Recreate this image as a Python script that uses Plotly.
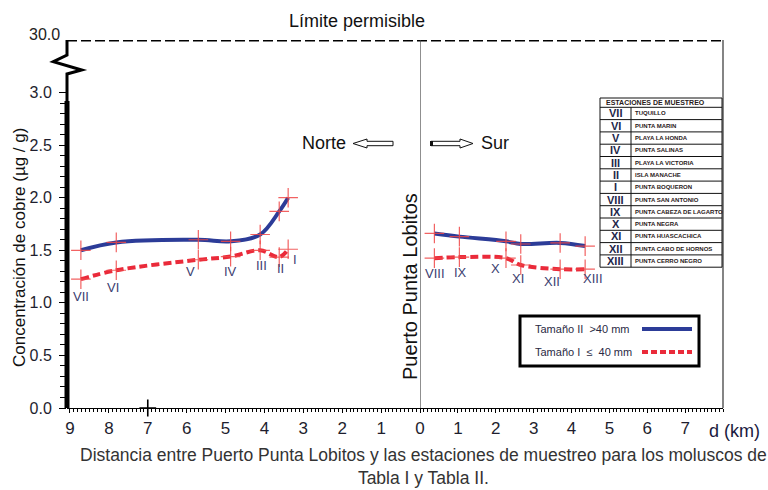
import numpy as np
import plotly.graph_objects as go

# ---- data -------------------------------------------------------------
# North stations: distance (km) from Puerto Punta Lobitos
norte_stations = ["VII", "VI", "V", "IV", "III", "II", "I"]
norte_km = [8.72, 7.81, 5.70, 4.87, 4.11, 3.62, 3.39]
norte_t2 = [1.50, 1.575, 1.60, 1.585, 1.65, 1.87, 2.00]   # Tamaño II  > 40 mm
norte_t1 = [1.225, 1.31, 1.41, 1.44, 1.50, 1.435, 1.51]   # Tamaño I  <= 40 mm

# South stations
sur_stations = ["VIII", "IX", "X", "XI", "XII", "XIII"]
sur_km = [0.38, 1.04, 2.27, 2.66, 3.70, 4.36]
sur_t2 = [1.66, 1.63, 1.585, 1.56, 1.57, 1.54]
sur_t1 = [1.425, 1.435, 1.425, 1.36, 1.32, 1.32]

# station table
table_codes = ["VII", "VI", "V", "IV", "III", "II", "I",
               "VIII", "IX", "X", "XI", "XII", "XIII"]
table_names = ["TUQUILLO", "PUNTA MARIN", "PLAYA LA HONDA", "PUNTA SALINAS",
               "PLAYA LA VICTORIA", "ISLA MANACHE", "PUNTA BOQUERON",
               "PUNTA SAN ANTONIO", "PUNTA CABEZA DE LAGARTO", "PUNTA NEGRA",
               "PUNTA HUASCACHICA", "PUNTA CABO DE HORNOS", "PUNTA CERRO NEGRO"]

name_t2 = "Tamaño II  >40 mm"
name_t1 = "Tamaño I  \u2264  40 mm"

y_ticks = [0.0, 0.5, 1.0, 1.5, 2.0, 2.5, 3.0]
limit_label = "30.0"

# ---- styling ----------------------------------------------------------
SANS = "Liberation Sans, Arial, Helvetica, sans-serif"
BLUE = "#2c3c98"
RED = "#ea2a3a"
CROSS = "rgba(240,70,70,0.85)"
LABEL_C = "#3c4070"

W, H = 768, 490
L, R, T, B = 67, 723, 40, 408
YMAX = 3.5


def fx(px):
    return (px - L) / (R - L)


def fy(py):
    return (B - py) / (B - T)


def yd(py):
    return (B - py) / (B - T) * YMAX


def note(px, py, text, size, color="#111111", xanchor="center", angle=0, bold=False, **kw):
    return dict(x=fx(px), y=fy(py), xref="paper", yref="paper",
                text=f"<b>{text}</b>" if bold else text,
                xanchor=xanchor, yanchor="middle", textangle=angle, showarrow=False,
                font=dict(family=SANS, size=size, color=color), **kw)


fig = go.Figure()

marker = dict(symbol="cross-thin", size=14, line=dict(width=1.2, color=CROSS), color=CROSS)

for xs, t2, t1, xa in [(norte_km, norte_t2, norte_t1, "x"), (sur_km, sur_t2, sur_t1, "x2")]:
    fig.add_trace(go.Scatter(x=xs, y=t2, xaxis=xa, yaxis="y", mode="lines+markers",
                             line=dict(color=BLUE, width=4, shape="spline", smoothing=1.0),
                             marker=marker, name=name_t2, showlegend=False))
    fig.add_trace(go.Scatter(x=xs, y=t1, xaxis=xa, yaxis="y", mode="lines+markers",
                             line=dict(color=RED, width=4, dash="8px,4px", shape="spline", smoothing=1.0),
                             marker=marker, name=name_t1, showlegend=False))

# small cross on the baseline at 7 km north
fig.add_trace(go.Scatter(x=[7], y=[0], xaxis="x", yaxis="y", mode="markers",
                         marker=dict(symbol="cross-thin", size=12, line=dict(width=1.6, color="black")),
                         cliponaxis=False, showlegend=False, hoverinfo="skip"))

annotations = []
shapes = []

# station labels under the Tamaño I curve (offsets in pixels)
norte_off = [(0, 17), (-3, 17), (-8, 12), (0, 15), (1, 15), (1, 11), (7, 10)]
sur_off = [(1, 15), (1, 15), (-10, 10), (-3, 13), (-8, 12), (8, 9)]
for xs, ys, labs, offs, xa in [(norte_km, norte_t1, norte_stations, norte_off, "x"),
                               (sur_km, sur_t1, sur_stations, sur_off, "x2")]:
    for xv, yv, lab, (dx, dy) in zip(xs, ys, labs, offs):
        annotations.append(dict(x=xv, y=yv, xref=xa, yref="y", text=lab, showarrow=False,
                                xanchor="center", yanchor="middle",
                                xshift=dx, yshift=-dy, font=dict(family=SANS, size=13, color=LABEL_C)))

# y axis with a break
yx1, yx2 = fx(81.7), fx(53.3)
shapes.append(dict(type="line", xref="paper", yref="y", x0=0, x1=0, y0=0, y1=2.92,
                   line=dict(color="black", width=5)))
shapes.append(dict(type="path", xref="paper", yref="y",
                   path=f"M 0,2.9 L 0,{yd(74)} L {yx1},{yd(70)} L {yx2},{yd(61.7)} L 0,{yd(55)} L 0,{YMAX}",
                   line=dict(color="black", width=3)))
# permissible limit line
shapes.append(dict(type="line", xref="paper", yref="y", x0=0, x1=1, y0=YMAX, y1=YMAX,
                   line=dict(color="black", width=3, dash="10px,4px")))
# right border and Puerto Punta Lobitos reference line
shapes.append(dict(type="line", xref="paper", yref="y", x0=1, x1=1, y0=0, y1=YMAX,
                   line=dict(color="#333333", width=1.2)))
shapes.append(dict(type="line", xref="x2", yref="y", x0=0, x1=0, y0=0, y1=YMAX,
                   line=dict(color="#444444", width=1.2)))

annotations.append(note(62, 34, limit_label, 16, "#222222", xanchor="right"))
annotations.append(note(357, 21, "Límite permisible", 18))

# axis titles and caption
annotations.append(note(19, 248, "Concentración de cobre (µg / g)", 17, angle=-90))
annotations.append(note(410, 287, "Puerto Punta Lobitos", 20, angle=-90))
annotations.append(note(707, 431, "d (km)", 18, "#1a1a40", xanchor="left"))
annotations.append(note(423, 466,
                        "Distancia entre Puerto Punta Lobitos y las estaciones de muestreo para los moluscos de"
                        "<br>Tabla I y Tabla II.", 17.5, "#333333", align="center"))

# direction arrows
annotations.append(note(348, 143, "Norte", 18, xanchor="right"))
annotations.append(note(479, 143, "Sur", 18, xanchor="left"))


def poly(points):
    return "M " + " L ".join(f"{fx(a)},{fy(b)}" for a, b in points) + " Z"


left_arrow = [(353, 143.5), (367, 139), (367, 141.3), (393, 141.3), (393, 145.7), (367, 145.7), (367, 148)]
right_arrow = [(431, 141.3), (460, 141.3), (460, 139), (473, 143.5), (460, 148), (460, 145.7), (431, 145.7)]
for pts in (left_arrow, right_arrow):
    shapes.append(dict(type="path", xref="paper", yref="paper", path=poly(pts),
                       fillcolor="white", line=dict(color="#111111", width=1)))
shapes.append(dict(type="rect", xref="paper", yref="paper", x0=fx(430), x1=fx(433),
                   y0=fy(146), y1=fy(141), fillcolor="#111111", line=dict(width=0)))

# station table
tx0, tx1, tcol = 600, 722, 631
ttop, thead = 98, 107.3
row_h = 12.3
tbot = thead + row_h * len(table_codes)
tline = dict(color="#111111", width=1)
shapes.append(dict(type="rect", xref="paper", yref="paper", x0=fx(tx0), x1=fx(tx1),
                   y0=fy(tbot), y1=fy(ttop), line=tline, fillcolor="white", layer="above"))
shapes.append(dict(type="line", xref="paper", yref="paper", x0=fx(tx0), x1=fx(tx1),
                   y0=fy(thead), y1=fy(thead), line=tline))
shapes.append(dict(type="line", xref="paper", yref="paper", x0=fx(tcol), x1=fx(tcol),
                   y0=fy(thead), y1=fy(tbot), line=tline))
annotations.append(note(604, (ttop + thead) / 2, "ESTACIONES DE MUESTREO", 7, "#2a1a1a",
                        xanchor="left", bold=True))
for i, (code, nm) in enumerate(zip(table_codes, table_names)):
    r0 = thead + i * row_h
    if i > 0:
        shapes.append(dict(type="line", xref="paper", yref="paper", x0=fx(tx0), x1=fx(tx1),
                           y0=fy(r0), y1=fy(r0), line=tline))
    cy = r0 + row_h / 2
    annotations.append(note((tx0 + tcol) / 2, cy, code, 11, "#23264a", bold=True))
    annotations.append(note(633, cy, nm, 6.0, "#2a1a1a", xanchor="left", bold=True))

# legend box
shapes.append(dict(type="rect", xref="paper", yref="paper", x0=fx(520), x1=fx(699),
                   y0=fy(366), y1=fy(316), line=dict(color="black", width=3), fillcolor="white"))
for nm, col, dash, py in [(name_t2, BLUE, "solid", 329), (name_t1, RED, "6px,3px", 352)]:
    annotations.append(note(533, py, nm, 11, "#2a2a44", xanchor="left"))
    shapes.append(dict(type="line", xref="paper", yref="paper", x0=fx(642), x1=fx(692),
                       y0=fy(py), y1=fy(py), line=dict(color=col, width=4, dash=dash)))

axis_common = dict(showline=True, linecolor="black", linewidth=1.2, ticks="outside",
                   ticklen=4, tickwidth=1.2, tickcolor="black", showgrid=False, zeroline=False,
                   tickfont=dict(family=SANS, size=17, color="#1e1e2e"),
                   minor=dict(dtick=0.1, tick0=0, ticks="outside", ticklen=3,
                              tickwidth=0.8, tickcolor="black"),
                   anchor="y", fixedrange=True)

minor_y = [v for v in np.round(np.arange(0.1, 3.0, 0.1), 1) if v not in y_ticks]

fig.update_layout(
    width=W, height=H,
    margin=dict(l=L, r=W - R, t=T, b=H - B),
    paper_bgcolor="white", plot_bgcolor="white",
    showlegend=False,
    xaxis=dict(domain=[0, fx(420)], range=[9.077, 0], tickvals=list(range(1, 10)), **axis_common),
    xaxis2=dict(domain=[fx(420), 1], range=[0, 8.0], tickvals=list(range(0, 8)), **axis_common),
    yaxis=dict(range=[0, YMAX], showline=False, showgrid=False, zeroline=False,
               tickvals=y_ticks, ticktext=[f"{v:.1f}" for v in y_ticks],
               ticks="outside", ticklen=7, tickwidth=1.2, tickcolor="black",
               ticklabelstandoff=4,
               minor=dict(tickvals=minor_y, ticks="outside", ticklen=6, tickwidth=1, tickcolor="black"),
               tickfont=dict(family=SANS, size=16, color="#1e1e2e"), fixedrange=True),
    shapes=shapes,
    annotations=annotations,
)

fig.write_html("out.html")
